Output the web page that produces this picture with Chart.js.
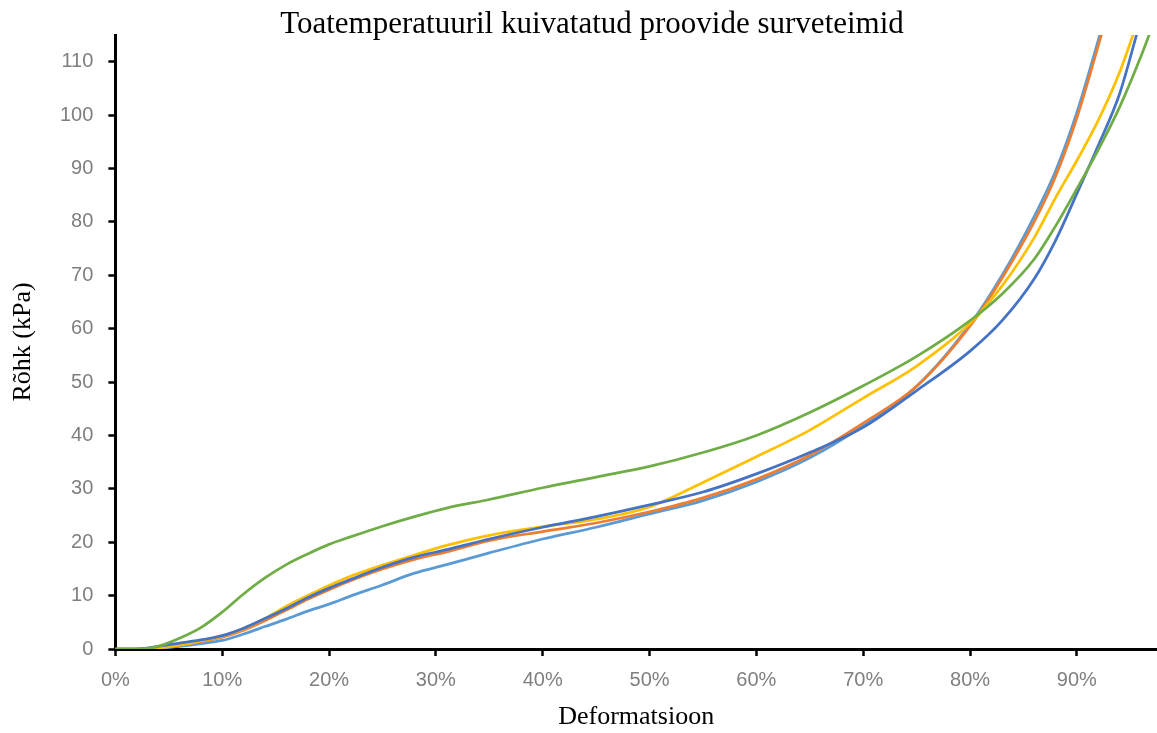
<!DOCTYPE html>
<html>
<head>
<meta charset="utf-8">
<script src="https://cdn.jsdelivr.net/npm/chart.js@4/dist/chart.umd.min.js"></script>
<style>
  html, body { margin: 0; padding: 0; background: #fff; }
  #wrap { width: 1157px; height: 733px; }
</style>
</head>
<body>
<div id="wrap"><canvas id="chart"></canvas></div>
<script>
// Deformatsioon (%) – common x positions for all curves
const deformatsioon = [0, 2, 4, 6, 8, 10, 12, 14, 16, 18, 20, 22, 25, 28, 31, 35, 40, 45, 50, 55, 60, 65, 70, 75, 80, 83, 86, 88, 90, 92, 94, 96, 97.5];

// Rõhk (kPa) per sample
const proov1 = [0, 0, 0.1, 0.5, 1, 1.6, 2.8, 4.2, 5.6, 7.1, 8.4, 9.9, 12, 14.2, 15.8, 18, 20.6, 22.8, 25.3, 27.8, 31.3, 35.8, 41.8, 49.2, 60.8, 70, 81, 89.5, 100.5, 114, 128, 143, 155];
const proov2 = [0, 0, 0.2, 0.7, 1.4, 2.2, 3.5, 5.3, 7.3, 9.3, 11.1, 12.8, 15, 16.8, 18.2, 20.3, 22, 23.6, 25.7, 28.3, 31.8, 36.3, 42.3, 49.2, 60.5, 69.5, 80, 88.5, 99.5, 113, 127, 142, 154];
const proov3 = [0, 0, 0.2, 0.7, 1.5, 2.4, 3.8, 5.7, 8, 10, 11.9, 13.6, 15.7, 17.6, 19.4, 21.3, 22.9, 24.3, 26.6, 31.2, 36, 41, 47, 53, 61, 68, 77, 84.5, 91.5, 99, 108, 119.5, 129];
const proov4 = [0, 0, 0.5, 1.1, 1.7, 2.5, 3.9, 5.7, 7.6, 9.6, 11.4, 13, 15.3, 17.2, 18.6, 20.6, 22.8, 24.8, 27, 29.4, 32.8, 36.8, 41.5, 48.4, 55.8, 61.5, 69.3, 76.5, 85.3, 94.3, 104, 118, 128];
const proov5 = [0, 0, 0.5, 2, 4, 6.9, 10.3, 13.3, 15.8, 17.8, 19.6, 21, 23, 24.8, 26.4, 28, 30.2, 32.2, 34.2, 36.8, 40, 44.3, 49.3, 54.8, 61.5, 66.5, 73, 79.2, 86.2, 93.5, 101.5, 111, 119];

const series = [proov1, proov2, proov3, proov4, proov5];
const colors = ['#5B9BD5', '#ED7D31', '#FFC000', '#4472C4', '#70AD47'];

const tickFont = { family: 'Liberation Sans', size: 20 };
const axisTitleFont = { family: 'Liberation Serif', size: 26, lineHeight: 1.0 };
const chartTitle = 'Toatemperatuuril kuivatatud proovide surveteimid';

const datasets = series.map((vals, i) => ({
    label: 'Proov ' + (i + 1),
    data: vals.map((v, j) => ({ x: deformatsioon[j], y: v })),
    borderColor: colors[i],
    borderWidth: 2.75,
    pointRadius: 0,
    fill: false,
    cubicInterpolationMode: 'monotone',
    order: series.length - i
}));

// title drawn by hand so it can sit slightly right of the canvas centre, like the original
const titlePlugin = {
    id: 'titleText',
    afterDraw(chart) {
        const ctx = chart.ctx;
        ctx.save();
        ctx.font = '31px "Liberation Serif"';
        ctx.fillStyle = '#000';
        ctx.textAlign = 'center';
        ctx.textBaseline = 'alphabetic';
        ctx.fillText(chartTitle, 592, 33);
        ctx.restore();
    }
};

const axisCommon = {
    type: 'linear',
    border: { display: true, color: '#000', width: 3 },
    grid: { drawOnChartArea: false, drawTicks: true, tickLength: 7, tickColor: '#000', tickWidth: 2.5 },
    ticks: { font: tickFont, color: '#7f7f7f', includeBounds: false, stepSize: 10 }
};

new Chart(document.getElementById('chart'), {
    type: 'line',
    data: { datasets: datasets },
    options: {
        responsive: true,
        maintainAspectRatio: false,
        animation: false,
        layout: { padding: { left: 6, right: 0, top: 35, bottom: 3 } },
        plugins: {
            legend: { display: false },
            tooltip: { enabled: false },
            title: { display: false }
        },
        scales: {
            x: Object.assign({}, axisCommon, {
                min: 0,
                max: 97.5,
                ticks: Object.assign({}, axisCommon.ticks, { callback: v => v + '%', padding: 12 }),
                title: { display: true, text: 'Deformatsioon', color: '#000', font: axisTitleFont, padding: { top: 0, bottom: 0 } }
            }),
            y: Object.assign({}, axisCommon, {
                min: 0,
                max: 115,
                ticks: Object.assign({}, axisCommon.ticks, { padding: 15 }),
                title: { display: true, text: 'Rõhk (kPa)', color: '#000', font: axisTitleFont, padding: { top: 4, bottom: 9 } }
            })
        }
    },
    plugins: [titlePlugin]
});
</script>
</body>
</html>
